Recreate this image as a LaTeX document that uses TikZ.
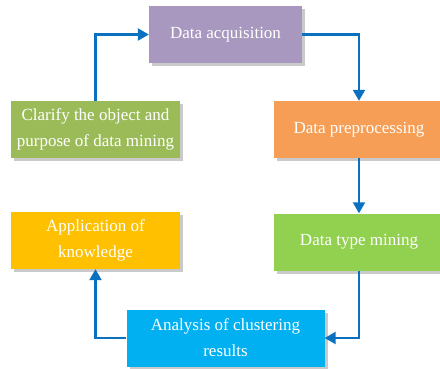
\documentclass[tikz,border=0pt]{standalone}
\usepackage{fontspec}
\setmainfont{Liberation Serif}
\newfontfamily\stagefont{Liberation Serif}
\usepackage{xcolor}
\usepackage{tikz}
\usetikzlibrary{arrows.meta, positioning, shadows}

\definecolor{acqpurple}{HTML}{A898C0}
\definecolor{clargreen}{HTML}{9BBB59}
\definecolor{preporange}{HTML}{F79E56}
\definecolor{minegreen}{HTML}{92D050}
\definecolor{appyellow}{HTML}{FFC000}
\definecolor{anablue}{HTML}{00B0F0}
\definecolor{flowblue}{HTML}{0A70C0}

\begin{document}
\begin{tikzpicture}[
  x=1pt, y=1pt,
  stage/.style={draw=none, minimum height=57pt, text=white, align=center,
    font=\stagefont\fontsize{17}{26}\selectfont,
    drop shadow={shadow xshift=3pt, shadow yshift=-3pt, opacity=0.35, fill=black!60}},
  flow/.style={line width=2.2pt, flowblue, -{Triangle[length=11pt, width=12pt]}}
]
  \useasboundingbox (0,0) rectangle (440,-368);

  \node[stage, fill=acqpurple,  minimum width=153pt] (acq)  at (225.5,-34.5) {Data acquisition};
  \node[stage, fill=clargreen,  minimum width=169pt] (clar) at (95.5,-129.5)
    {Clarify the object and\\purpose of data mining};
  \node[stage, fill=preporange, minimum width=170pt] (prep) at (359,-129.5) {Data preprocessing};
  \node[stage, fill=minegreen,  minimum width=170pt] (mine) at (359,-242) {Data type mining};
  \node[stage, fill=appyellow,  minimum width=169pt] (app)  at (95.5,-240.5)
    {Application of\\knowledge};
  \node[stage, fill=anablue,    minimum width=198pt] (ana)  at (225.5,-338)
    {Analysis of clustering\\results};

  \draw[flow] (clar.north) |- (acq.west);
  \draw[flow] (acq.east) -| (prep.north);
  \draw[flow] (prep.south) -- (mine.north);
  \draw[flow] (mine.south) |- (ana.east);
  \draw[flow] (ana.west) -| (app.south);
\end{tikzpicture}
\end{document}
